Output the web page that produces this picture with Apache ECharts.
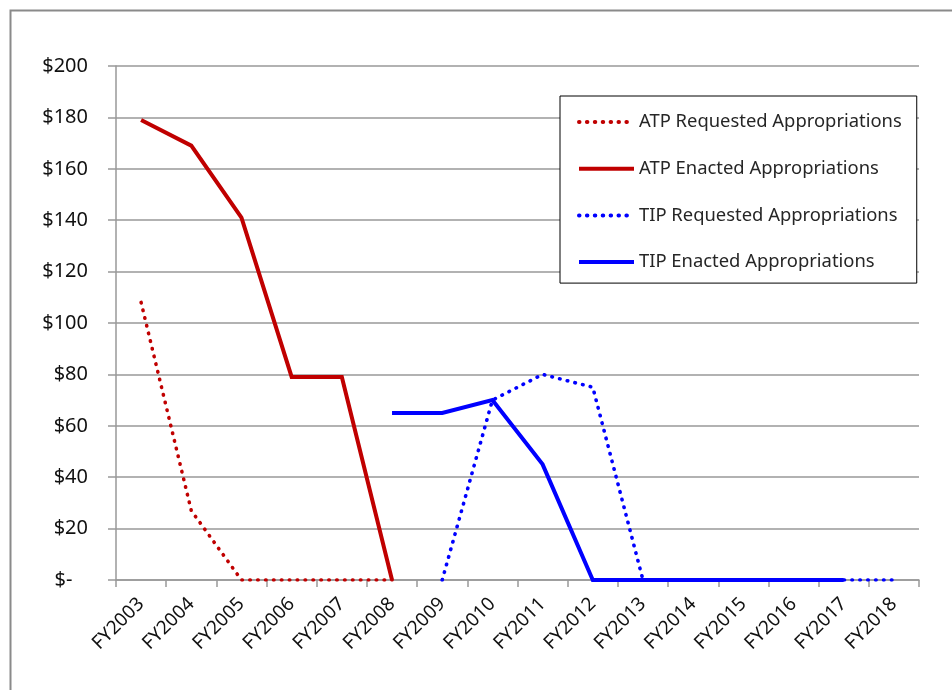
<!DOCTYPE html>
<html>
<head>
<meta charset="utf-8">
<script src="https://cdn.jsdelivr.net/npm/echarts@6/dist/echarts.min.js"></script>
<style>
html,body{margin:0;padding:0;background:#fff;}
#c{width:952px;height:690px;}
</style>
</head>
<body>
<div id="c"></div>
<script>
var categories = ['FY2003','FY2004','FY2005','FY2006','FY2007','FY2008','FY2009','FY2010','FY2011','FY2012','FY2013','FY2014','FY2015','FY2016','FY2017','FY2018'];
var atpRequested = [108, 27, 0, 0, 0, 0, null, null, null, null, null, null, null, null, null, null];
var atpEnacted   = [179, 169, 141, 79, 79, 0, null, null, null, null, null, null, null, null, null, null];
var tipRequested = [null, null, null, null, null, null, 0, 70, 80, 75, 0, 0, 0, 0, 0, 0];
var tipEnacted   = [null, null, null, null, null, 65, 65, 70, 45, 0, 0, 0, 0, 0, 0, null];
var seriesNames = ['ATP Requested Appropriations','ATP Enacted Appropriations','TIP Requested Appropriations','TIP Enacted Appropriations'];

var FONT = 'Noto Sans';
var RED = '#C00000', BLUE = '#0000FF';
var dotted = [0.5, 7.4];

function mk(name, data, color, dot) {
  return {
    name: name, type: 'line', data: data, symbol: 'none', connectNulls: false,
    lineStyle: { color: color, width: dot ? 3.6 : 4, type: dot ? dotted : 'solid', cap: dot ? 'round' : 'butt', join: 'miter' },
    itemStyle: { color: color },
    emphasis: { disabled: true }, animation: false
  };
}

var chart = echarts.init(document.getElementById('c'), null, { renderer: 'canvas' });
chart.setOption({
  animation: false,
  backgroundColor: '#fff',
  graphic: [{
    type: 'rect', left: 8, top: 8,
    shape: { width: 980, height: 720 },
    style: { fill: 'none', stroke: '#8a8a8a', lineWidth: 2 }, z: -1, silent: true
  }],
  grid: { left: 116, right: 33, top: 66, bottom: 110, containLabel: false },
  legend: {
    orient: 'vertical', left: 560, top: 96,
    padding: [16, 15, 11, 17],
    itemGap: 26.7, itemWidth: 55, itemHeight: 20,
    borderColor: '#000', borderWidth: 1, backgroundColor: '#fff',
    itemStyle: { opacity: 0 },
    lineStyle: { width: 4 },
    textStyle: { fontFamily: FONT, fontSize: 18.4, lineHeight: 20, color: '#262626' },
    data: seriesNames,
    selectedMode: false
  },
  xAxis: {
    type: 'category', data: categories, boundaryGap: true,
    axisLine: { show: true, lineStyle: { color: '#999', width: 1.5 } },
    axisTick: { show: true, length: 7, lineStyle: { color: '#999', width: 1.5 } },
    axisLabel: { rotate: 45, fontFamily: FONT, fontSize: 19, color: '#111', margin: 21, interval: 0 },
    splitLine: { show: false }
  },
  yAxis: {
    type: 'value', min: 0, max: 200, interval: 20,
    axisLine: { show: true, lineStyle: { color: '#999', width: 1.5 } },
    axisTick: { show: true, length: 8, lineStyle: { color: '#999', width: 1.5 } },
    axisLabel: {
      fontFamily: FONT, fontSize: 20, color: '#111', margin: 28,
      formatter: function (v) { return v === 0 ? '$-   ' : '$' + v; }
    },
    splitLine: { show: true, lineStyle: { color: '#999', width: 1.5 } }
  },
  series: [
    mk(seriesNames[0], atpRequested, RED, true),
    mk(seriesNames[1], atpEnacted, RED, false),
    mk(seriesNames[2], tipRequested, BLUE, true),
    mk(seriesNames[3], tipEnacted, BLUE, false)
  ]
});
</script>
</body>
</html>
